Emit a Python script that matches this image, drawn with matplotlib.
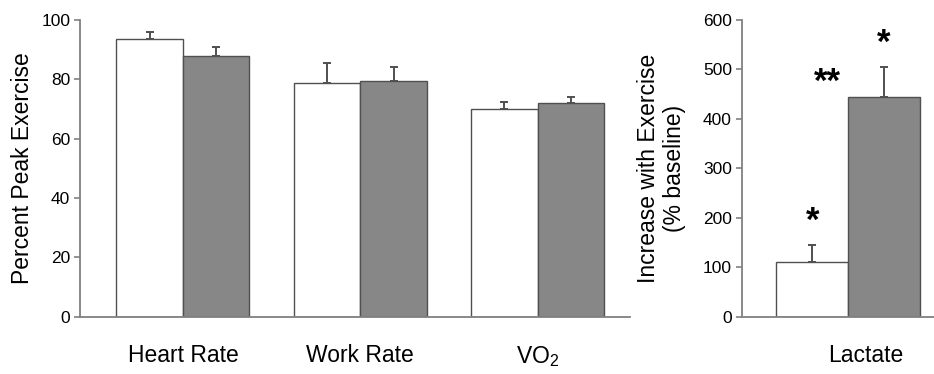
import matplotlib
matplotlib.use("Agg")
import matplotlib.pyplot as plt
import numpy as np

plt.rcParams['font.family'] = ['Liberation Sans', 'DejaVu Sans']
plt.rcParams['mathtext.fontset'] = 'custom'
plt.rcParams['mathtext.rm'] = 'Liberation Sans'

# left panel: percent of peak exercise
categories = ['Heart Rate', 'Work Rate', 'VO$_{2}$']
group1 = [93.5, 78.9, 70.0]
group1_err = [2.6, 6.7, 2.5]
group2 = [87.9, 79.4, 72.1]
group2_err = [2.9, 4.6, 2.0]

# right panel: lactate increase
lact_label = 'Lactate'
lact1, lact1_err = 111, 34
lact2, lact2_err = 445, 60

white = 'white'
grey = '#878787'
edge = '#505050'
spine = '#808080'

fig = plt.figure(figsize=(9.34, 3.74), dpi=100)
ax1 = fig.add_axes([0.0857, 0.1532, 0.5888, 0.7933])
ax2 = fig.add_axes([0.794, 0.1532, 0.206, 0.7933])

w = 0.375
x = np.arange(len(categories))
ekw = dict(ecolor=edge, elinewidth=1.4, capsize=3, capthick=1.4)
zeros = np.zeros(len(x))
ax1.bar(x - w/2, group1, w, color=white, edgecolor=edge, linewidth=1.0,
        yerr=[zeros, group1_err], error_kw=ekw, zorder=2)
ax1.bar(x + w/2, group2, w, color=grey, edgecolor=edge, linewidth=1.0,
        yerr=[zeros, group2_err], error_kw=ekw, zorder=2)
ax1.set_xlim(-0.58, 2.52)
ax1.set_ylim(0, 100)
ax1.set_yticks(range(0, 101, 20))
ax1.set_xticks(x)
ax1.set_xticklabels(categories, fontsize=16.5)
ax1.set_ylabel('Percent Peak Exercise', fontsize=16.5, labelpad=5)

w2 = 0.4
ax2.bar(-w2/2, lact1, w2, color=white, edgecolor=edge, linewidth=1.0,
        yerr=[[0], [lact1_err]], error_kw=ekw, zorder=2)
ax2.bar(w2/2, lact2, w2, color=grey, edgecolor=edge, linewidth=1.0,
        yerr=[[0], [lact2_err]], error_kw=ekw, zorder=2)
ax2.set_xlim(-0.595, 0.48)
ax2.set_ylim(0, 600)
ax2.set_yticks(range(0, 601, 100))
ax2.set_xticks([0.1])
ax2.set_xticklabels([lact_label], fontsize=16.5)
ax2.set_ylabel('Increase with Exercise\n(% baseline)', fontsize=16.5, labelpad=12)

# significance markers
star_kw = dict(ha='center', va='bottom', fontsize=25, fontweight='bold')
ax2.text(-w2/2, lact1 + lact1_err + 15, '*', **star_kw)
ax2.text(-0.115, 440, '**', **star_kw)
ax2.text(w2/2, lact2 + lact2_err + 15, '*', **star_kw)

for ax in (ax1, ax2):
    ax.spines['top'].set_visible(False)
    ax.spines['right'].set_visible(False)
    ax.spines['left'].set_color(spine)
    ax.spines['bottom'].set_color(spine)
    ax.spines['left'].set_linewidth(1.3)
    ax.spines['bottom'].set_linewidth(1.3)
    ax.tick_params(axis='y', labelsize=12.5, length=4, width=1.2, color=spine, pad=3)
    ax.tick_params(axis='x', length=0, pad=20)

fig.savefig('out.png', dpi=100)
